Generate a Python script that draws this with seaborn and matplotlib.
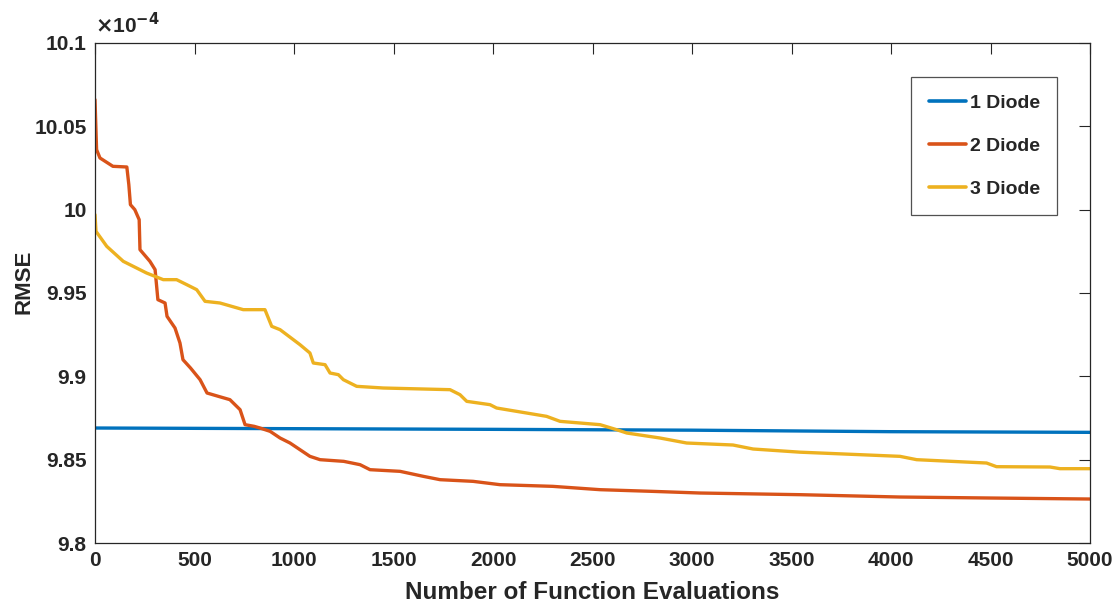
import numpy as np
import pandas as pd
import seaborn as sns
import matplotlib
matplotlib.use("Agg")
import matplotlib.pyplot as plt
from matplotlib.ticker import FuncFormatter

# RMSE values are in units of 1e-4
series_names = ["1 Diode", "2 Diode", "3 Diode"]

evals_1 = [0, 1000, 2000, 3000, 4000, 5000]
rmse_1 = [9.869, 9.8686, 9.8682, 9.8677, 9.8668, 9.8664]

evals_2 = [0, 8, 25, 90, 160, 170, 178, 200, 222, 226,
           276, 302, 316, 352, 362, 402, 427, 442, 480, 528,
           563, 620, 678, 729, 754, 800, 829, 880, 930, 980,
           1030, 1080, 1131, 1250, 1332, 1382, 1533, 1650, 1734, 1900,
           2035, 2300, 2538, 2800, 3040, 3543, 4045, 4500, 5000]
rmse_2 = [10.066, 10.036, 10.031, 10.026, 10.0256, 10.015, 10.003, 10.0, 9.994, 9.976,
          9.969, 9.964, 9.946, 9.944, 9.936, 9.929, 9.920, 9.910, 9.905, 9.898,
          9.890, 9.888, 9.886, 9.880, 9.871, 9.870, 9.869, 9.867, 9.863, 9.860,
          9.856, 9.852, 9.850, 9.849, 9.847, 9.844, 9.843, 9.840, 9.838, 9.837,
          9.835, 9.834, 9.832, 9.831, 9.830, 9.829, 9.8276, 9.827, 9.8264]

evals_3 = [0, 5, 59, 142, 259, 343, 410, 461, 511, 553,
           628, 745, 854, 888, 930, 1030, 1080, 1097, 1156, 1181,
           1223, 1248, 1315, 1449, 1784, 1834, 1868, 1985, 2018, 2269,
           2337, 2538, 2621, 2672, 2839, 2973, 3206, 3307, 3543, 4045,
           4129, 4480, 4530, 4799, 4849, 5000]
rmse_3 = [9.997, 9.987, 9.978, 9.969, 9.962, 9.958, 9.958, 9.955, 9.952, 9.945,
          9.944, 9.940, 9.940, 9.930, 9.928, 9.919, 9.914, 9.908, 9.907, 9.902,
          9.901, 9.898, 9.894, 9.893, 9.892, 9.889, 9.885, 9.883, 9.881, 9.876,
          9.873, 9.871, 9.868, 9.866, 9.863, 9.860, 9.8588, 9.8564, 9.8545, 9.852,
          9.850, 9.848, 9.8458, 9.8456, 9.8446, 9.8446]

x_ticks = [0, 500, 1000, 1500, 2000, 2500, 3000, 3500, 4000, 4500, 5000]
y_ticks = [9.8, 9.85, 9.9, 9.95, 10.0, 10.05, 10.1]

df = pd.concat([
    pd.DataFrame({"evals": evals_1, "rmse": rmse_1, "model": series_names[0]}),
    pd.DataFrame({"evals": evals_2, "rmse": rmse_2, "model": series_names[1]}),
    pd.DataFrame({"evals": evals_3, "rmse": rmse_3, "model": series_names[2]}),
], ignore_index=True)

sns.set_style("white")
plt.rcParams["font.family"] = ["Liberation Sans", "DejaVu Sans"]
plt.rcParams["font.weight"] = "bold"

fig = plt.figure(figsize=(11.15, 6.07), dpi=100)
ax = fig.add_axes([0.0852, 0.1054, 0.8924, 0.8238])

palette = {"1 Diode": "#0072BD", "2 Diode": "#D95319", "3 Diode": "#EDB120"}
sns.lineplot(data=df, x="evals", y="rmse", hue="model", palette=palette,
             estimator=None, sort=False, linewidth=2.4, ax=ax)

ax.set_xlim(0, 5000)
ax.set_ylim(9.8, 10.1)
ax.set_xticks(x_ticks)
ax.set_yticks(y_ticks)
ax.yaxis.set_major_formatter(FuncFormatter(lambda v, p: f"{v:g}"))

for s in ax.spines.values():
    s.set_color("#262626")
    s.set_linewidth(0.9)
ax.tick_params(direction="in", length=8, width=0.8, color="#262626",
               top=True, right=True, labelsize=15, labelcolor="#262626", pad=6)
for lab in ax.get_xticklabels() + ax.get_yticklabels():
    lab.set_fontweight("bold")

ax.set_xlabel("Number of Function Evaluations", fontsize=17.5, fontweight="bold",
              color="#262626", labelpad=8)
ax.set_ylabel("RMSE", fontsize=16, fontweight="bold", color="#262626", labelpad=2)
ax.yaxis.set_label_coords(-0.061, 0.522)

ax.text(0.0, 1.012, r"$\times$10$^{\mathbf{-4}}$", transform=ax.transAxes,
        fontsize=15, color="#262626", ha="left", va="bottom")

leg = ax.legend(loc="upper right", bbox_to_anchor=(0.967, 0.932), fontsize=14,
                frameon=True, fancybox=False, handlelength=1.9, handletextpad=0.2,
                labelspacing=1.3, borderpad=0.9, borderaxespad=0)
leg.get_frame().set_edgecolor("#262626")
leg.get_frame().set_linewidth(0.9)
for t in leg.get_texts():
    t.set_fontweight("bold")
for h in leg.get_lines():
    h.set_linewidth(2.6)

fig.savefig("out.png", dpi=100)
